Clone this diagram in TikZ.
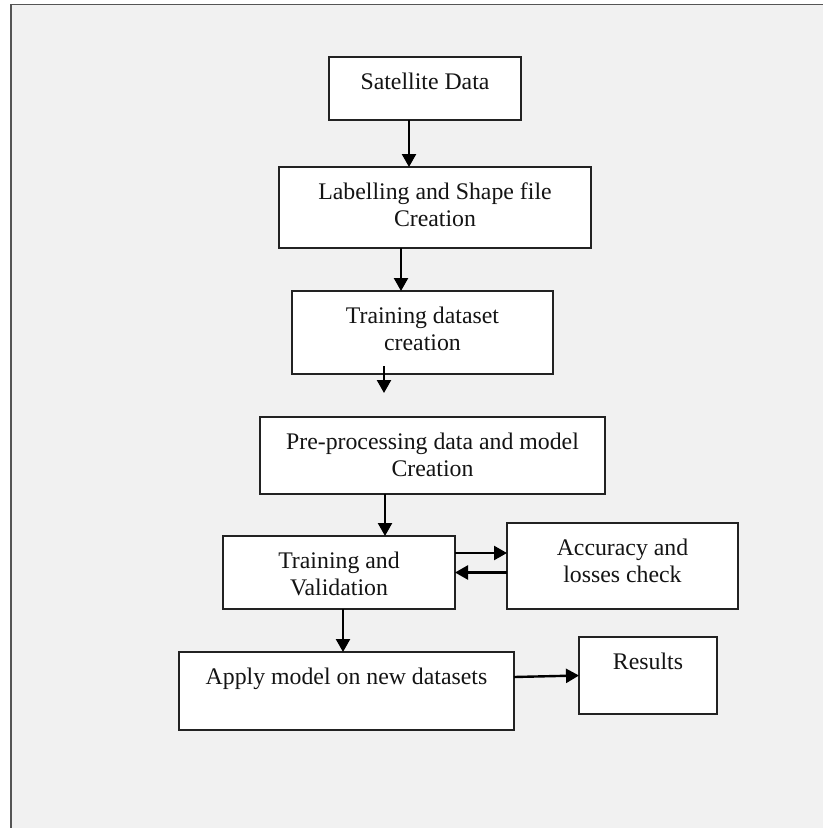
\documentclass[tikz,border=0pt]{standalone}
\usepackage{fontspec}
\setmainfont{Liberation Serif}
\usetikzlibrary{arrows.meta}
\definecolor{bggray}{HTML}{F1F1F1}
\definecolor{framegray}{HTML}{555555}
\definecolor{linedark}{HTML}{222222}
\begin{document}
\begin{tikzpicture}[x=1pt,y=-1pt,
  box/.style={draw=linedark, line width=1.8pt, fill=white, rectangle, inner sep=0pt, outer sep=0pt},
  txt/.style={anchor=north, inner sep=0pt, align=center, font=\fontsize{23.8}{27}\selectfont, text=black!92},
  arr/.style={draw=black, line width=2.4pt, -{Triangle[length=13pt,width=14pt]}}]
\useasboundingbox (0,0) rectangle (823,828);
\fill[white] (0,0) rectangle (823,828);
\fill[bggray] (11,4.5) rectangle (823,828);
\draw[framegray, line width=1.8pt] (11,828) -- (11,4.5) -- (823,4.5);

% boxes
\node[box, minimum width=192pt, minimum height=63pt] (sat) at (425,88.5) {};
\node[box, minimum width=312pt, minimum height=81pt] (lab) at (435,207.5) {};
\node[box, minimum width=261pt, minimum height=83pt] (trn) at (422.5,332.5) {};
\node[box, minimum width=345pt, minimum height=77pt] (pre) at (432.5,455.5) {};
\node[box, minimum width=232pt, minimum height=73pt] (tv) at (339,572.5) {};
\node[box, minimum width=231pt, minimum height=86pt] (acc) at (622.5,566) {};
\node[box, minimum width=335pt, minimum height=78pt] (app) at (346.5,691) {};
\node[box, minimum width=138pt, minimum height=77pt] (res) at (648,675.5) {};

% texts
\node[txt] (satT) at ([yshift=-13.6pt]sat.north) {\strut Satellite Data};
\node[txt] (labT) at ([yshift=-13.6pt]lab.north) {\strut Labelling and Shape file\\\strut Creation};
\node[txt] (trnT) at ([yshift=-13.6pt]trn.north) {\strut Training dataset\\\strut creation};
\node[txt] (preT) at ([yshift=-13.6pt]pre.north) {\strut Pre-processing data and model\\\strut Creation};
\node[txt] (tvT) at ([yshift=-13.6pt]tv.north) {\strut Training and\\\strut Validation};
\node[txt] (accT) at ([yshift=-13.6pt]acc.north) {\strut Accuracy and\\\strut losses check};
\node[txt] (appT) at ([yshift=-13.6pt]app.north) {\strut Apply model on new datasets};
\node[txt] (resT) at ([yshift=-13.6pt]res.north) {\strut Results};

% connectors
\draw[arr] ([xshift=-16pt]sat.south) -- ([xshift=-16pt]sat.south |- lab.north);
\draw[arr] ([xshift=-34pt]lab.south) -- ([xshift=-34pt]lab.south |- trn.north);
\coordinate (a3s) at ([xshift=-38.5pt,yshift=8pt]trn.south);
\coordinate (a3e) at ([xshift=-38.5pt,yshift=-19pt]trn.south);
\draw[arr] (a3s) -- (a3e);
\draw[arr] ([xshift=-47.5pt]pre.south) -- ([xshift=-47.5pt]pre.south |- tv.north);
\draw[arr] ([xshift=4pt]tv.south) -- ([xshift=4pt]tv.south |- app.north);
\draw[arr] ([yshift=19.5pt]tv.east) -- ([yshift=19.5pt]tv.east -| acc.west);
\draw[arr] (acc.west |- tv.east) -- (tv.east);
\draw[arr] ([yshift=14pt]app.east) -- (res.west);
\end{tikzpicture}
\end{document}
